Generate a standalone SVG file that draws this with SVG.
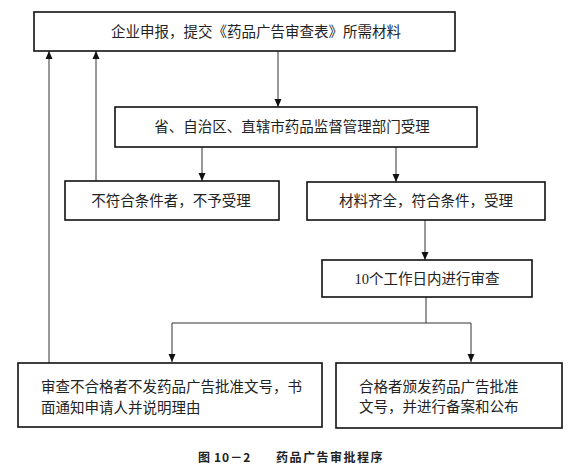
<svg xmlns="http://www.w3.org/2000/svg" width="585" height="467" viewBox="0 0 585 467">
<style>
.box{fill:#fff;stroke:#111;stroke-width:1.6}
.t{font-family:"Liberation Serif","Noto Sans CJK SC",serif;font-size:14.5px;fill:#222;dominant-baseline:central}
.c{text-anchor:middle}
.ln{fill:none;stroke:#333;stroke-width:1}
.cap{font-family:"Noto Sans CJK SC",sans-serif;font-size:12px;font-weight:bold;fill:#222;dominant-baseline:central}
</style>
<defs>
<marker id="ah" viewBox="0 0 8 10" refX="8" refY="5" markerWidth="8" markerHeight="10" markerUnits="userSpaceOnUse" orient="auto">
<path d="M0,1.5 L8,5 L0,8.5 Z" fill="#111"/>
</marker>
</defs>
<rect width="585" height="467" fill="#fff"/>
<g id="connectors">
<path class="ln" d="M278,51 V107" marker-end="url(#ah)"/>
<path class="ln" d="M202,147 V181" marker-end="url(#ah)"/>
<path class="ln" d="M396,147 V182" marker-end="url(#ah)"/>
<path class="ln" d="M96,181 V51" marker-end="url(#ah)"/>
<path class="ln" d="M49,363 V51" marker-end="url(#ah)"/>
<path class="ln" d="M425,220 V260" marker-end="url(#ah)"/>
<path class="ln" d="M426,297 V323 H172 V362" marker-end="url(#ah)"/>
<path class="ln" d="M426,323 H471 V362" marker-end="url(#ah)"/>
</g>
<g id="n1"><rect class="box" x="34" y="12" width="421" height="39"/><text class="t c" x="256" y="32">企业申报，提交《药品广告审查表》所需材料</text></g>
<g id="n2"><rect class="box" x="115" y="107" width="362" height="40"/><text class="t c" x="292" y="127">省、自治区、直辖市药品监督管理部门受理</text></g>
<g id="n3"><rect class="box" x="65" y="181" width="214" height="39"/><text class="t c" x="171" y="201">不符合条件者，不予受理</text></g>
<g id="n4"><rect class="box" x="307" y="182" width="238" height="38"/><text class="t c" x="426" y="201">材料齐全，符合条件，受理</text></g>
<g id="n5"><rect class="box" x="322" y="260" width="210" height="37"/><text class="t c" x="427" y="279">10个工作日内进行审查</text></g>
<g id="n6"><rect class="box" x="18" y="363" width="304" height="64"/><text class="t" x="41" y="387">审查不合格者不发药品广告批准文号，书</text><text class="t" x="41" y="408">面通知申请人并说明理由</text></g>
<g id="n7"><rect class="box" x="336" y="363" width="226" height="65"/><text class="t" x="359" y="387">合格者颁发药品广告批准</text><text class="t" x="359" y="407">文号，并进行备案和公布</text></g>
<g id="caption"><text class="cap" x="198" y="456">图</text><text class="cap" x="214" y="456" letter-spacing="1">10－2</text><text class="cap" x="276" y="456" letter-spacing="1.5">药品广告审批程序</text></g>
</svg>
